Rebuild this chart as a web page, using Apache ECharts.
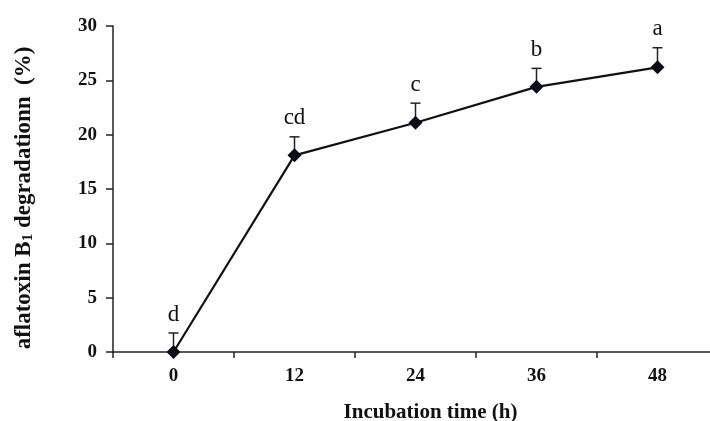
<!DOCTYPE html>
<html>
<head>
<meta charset="utf-8">
<script src="https://cdn.jsdelivr.net/npm/echarts@6/dist/echarts.min.js"></script>
<style>html,body{margin:0;padding:0;background:#fff}#c{width:710px;height:421px}</style>
</head>
<body>
<div id="c"></div>
<script>
const categories = ['0', '12', '24', '36', '48'];
const degradation = [0, 18.1, 21.1, 24.4, 26.2];
const errors = [1.75, 1.7, 1.8, 1.7, 1.8];
const letters = ['d', 'cd', 'c', 'b', 'a'];
const yTicks = [0, 5, 10, 15, 20, 25, 30];

const serif = '"Liberation Serif", "Times New Roman", serif';
const chart = echarts.init(document.getElementById('c'));
const errData = categories.map((c, i) => [i, degradation[i], errors[i]]);

chart.setOption({
  animation: false,
  backgroundColor: '#fff',
  grid: { left: 113, top: 26, width: 605, height: 326, containLabel: false, outerBoundsMode: 'none' },
  xAxis: {
    type: 'category',
    data: categories,
    boundaryGap: true,
    name: 'Incubation time (h)',
    nameLocation: 'middle',
    nameGap: 50,
    nameTextStyle: { fontFamily: serif, fontWeight: 'bold', fontSize: 21, color: '#111', padding: [0, 0, 0, 30] },
    axisLine: { lineStyle: { color: '#222', width: 1.5 } },
    axisTick: { show: true, inside: false, length: 6, lineStyle: { color: '#222', width: 1.5 } },
    axisLabel: { fontFamily: serif, fontWeight: 'bold', fontSize: 19, color: '#111', margin: 15 },
    splitLine: { show: false }
  },
  yAxis: {
    type: 'value',
    min: yTicks[0],
    max: yTicks[yTicks.length - 1],
    interval: 5,
    name: 'aflatoxin B{sub|1} degradationn  (%)',
    nameLocation: 'middle',
    nameRotate: 90,
    nameGap: 77,
    nameTextStyle: {
      fontFamily: serif, fontWeight: 'bold', fontSize: 23, color: '#111', padding: [0, 18, 0, 0],
      rich: { sub: { fontFamily: serif, fontWeight: 'bold', fontSize: 15, color: '#111', verticalAlign: 'bottom', padding: [9, 0, 0, 0] } }
    },
    axisLine: { show: true, lineStyle: { color: '#222', width: 1.5 } },
    axisTick: { show: true, inside: false, length: 7, lineStyle: { color: '#222', width: 1.5 } },
    axisLabel: { fontFamily: serif, fontWeight: 'bold', fontSize: 19, color: '#111', margin: 16 },
    splitLine: { show: false }
  },
  series: [
    {
      type: 'custom',
      z: 1,
      data: errData,
      encode: { x: 0, y: 1 },
      renderItem: function (params, api) {
        const i = api.value(0), v = api.value(1), e = api.value(2);
        const p0 = api.coord([i, v]);
        const p1 = api.coord([i, v + e]);
        const st = { stroke: '#222', lineWidth: 1.5 };
        return {
          type: 'group',
          children: [
            { type: 'line', shape: { x1: p0[0], y1: p0[1], x2: p1[0], y2: p1[1] }, style: st },
            { type: 'line', shape: { x1: p1[0] - 5, y1: p1[1], x2: p1[0] + 5, y2: p1[1] }, style: st },
            { type: 'text', x: p1[0], y: p1[1] - 7,
              style: { text: letters[params.dataIndex], font: '23px ' + serif, fill: '#111', textAlign: 'center', textVerticalAlign: 'bottom' } }
          ]
        };
      }
    },
    {
      type: 'line',
      z: 2,
      data: degradation,
      symbol: 'diamond',
      symbolSize: 14,
      itemStyle: { color: '#0b0b1a' },
      lineStyle: { color: '#111', width: 2.2 }
    }
  ]
});
</script>
</body>
</html>
